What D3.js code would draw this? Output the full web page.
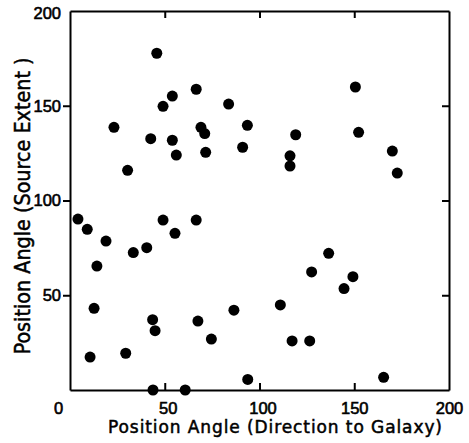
<!DOCTYPE html>
<html lang="en">
<head>
  <meta charset="UTF-8">
  <title>Position angles</title>
  <script src="https://d3js.org/d3.v7.min.js"></script>
  <style>
    body { margin: 0; background: #fff; }
    svg { display: block; font-family: "DejaVu Sans", sans-serif; }
    .axis path, .axis line { stroke: #000; }
    .axis path { stroke-width: 2; }
    .axis line { stroke-width: 2; }
    .axis text { font-size: 16.5px; fill: #000; stroke: #000; stroke-width: 0.6; }
    .title { font-size: 17px; fill: #000; stroke: #000; stroke-width: 0.5; }
  </style>
</head>
<body>
  <svg id="chart" width="469" height="443"></svg>
  <script>
    // position angle (direction to galaxy)
    const galaxyAngle = [
      45.8, 23.2, 30.4, 42.6, 49.1, 54.0, 54.0, 56.1, 66.6, 69.1, 71.1, 71.6, 83.7, 91.1, 93.6,
      119.1, 116.1, 116.1, 150.6, 152.3, 170.1, 172.7,
      4.2, 9.1, 19.0, 14.2, 33.4, 40.5, 49.1, 55.4, 66.6,
      12.7, 10.6, 29.4, 43.6, 44.9, 43.8, 60.8, 67.5, 74.6, 86.5,
      136.5, 127.5, 149.3, 144.6, 111.0, 117.2, 126.5, 93.8, 165.5
    ];
    // position angle (source extent)
    const sourceAngle = [
      177.7, 138.6, 115.9, 132.6, 149.7, 155.1, 131.8, 124.0, 158.7, 138.6, 135.3, 125.4, 150.9, 128.1, 139.7,
      134.7, 123.6, 118.2, 159.9, 136.0, 126.1, 114.5,
      90.2, 84.8, 78.6, 65.4, 72.5, 75.1, 89.7, 82.7, 89.7,
      43.1, 17.4, 19.4, 37.1, 31.3, 0, 0, 36.4, 26.9, 42.1,
      72.1, 62.3, 59.8, 53.5, 44.9, 25.9, 25.9, 5.6, 6.7
    ];
    const xTicks = [0, 50, 100, 150, 200];
    const yTicks = [50, 100, 150, 200];
    const innerTicks = [50, 100, 150];

    const svg = d3.select("#chart");
    const plotLeft = 70, plotRight = 449, plotTop = 11, plotBottom = 390;

    const x = d3.scaleLinear().domain([0, 200]).range([plotLeft, plotRight]);
    const y = d3.scaleLinear().domain([0, 200]).range([plotBottom, plotTop]);

    // bottom axis, ticks pointing in
    const gx = svg.append("g")
      .attr("class", "axis")
      .attr("transform", `translate(0,${plotBottom})`)
      .call(d3.axisBottom(x).tickValues(xTicks).tickSizeInner(-7).tickSizeOuter(0).tickPadding(12));
    gx.selectAll(".tick line").filter(d => d === 0 || d === 200).remove();
    gx.selectAll(".tick text").filter(d => d === 0).attr("x", -12);
    gx.selectAll(".tick text").filter(d => d === 50 || d === 100).attr("x", 3);

    // left axis, ticks pointing out
    const gy = svg.append("g")
      .attr("class", "axis")
      .attr("transform", `translate(${plotLeft},0)`)
      .call(d3.axisLeft(y).tickValues(yTicks).tickSizeInner(7).tickSizeOuter(0).tickPadding(2));
    gy.selectAll(".tick line").filter(d => d === 200).remove();
    gy.selectAll(".tick text").filter(d => d === 200).attr("dy", "0.45em");

    svg.append("g")
      .attr("class", "axis")
      .attr("transform", `translate(0,${plotTop})`)
      .call(d3.axisTop(x).tickValues(innerTicks).tickSizeInner(-7).tickSizeOuter(0).tickFormat(""));

    svg.append("g")
      .attr("class", "axis")
      .attr("transform", `translate(${plotRight},0)`)
      .call(d3.axisRight(y).tickValues(innerTicks).tickSizeInner(-7).tickSizeOuter(0).tickFormat(""));

    svg.append("g")
      .selectAll("circle")
      .data(galaxyAngle)
      .join("circle")
      .attr("cx", d => x(d))
      .attr("cy", (d, i) => y(sourceAngle[i]))
      .attr("r", 5.5)
      .attr("fill", "#000");

    svg.append("text")
      .attr("class", "title")
      .attr("x", 275)
      .attr("y", 433)
      .attr("text-anchor", "middle")
      .attr("textLength", 334)
      .attr("lengthAdjust", "spacing")
      .text("Position Angle (Direction to Galaxy)");

    svg.append("text")
      .attr("class", "title")
      .attr("transform", "translate(30,206) rotate(-90)")
      .attr("text-anchor", "middle")
      .style("font-size", "21px")
      .attr("textLength", 297)
      .attr("lengthAdjust", "spacingAndGlyphs")
      .text("Position Angle (Source Extent )");
  </script>
</body>
</html>
